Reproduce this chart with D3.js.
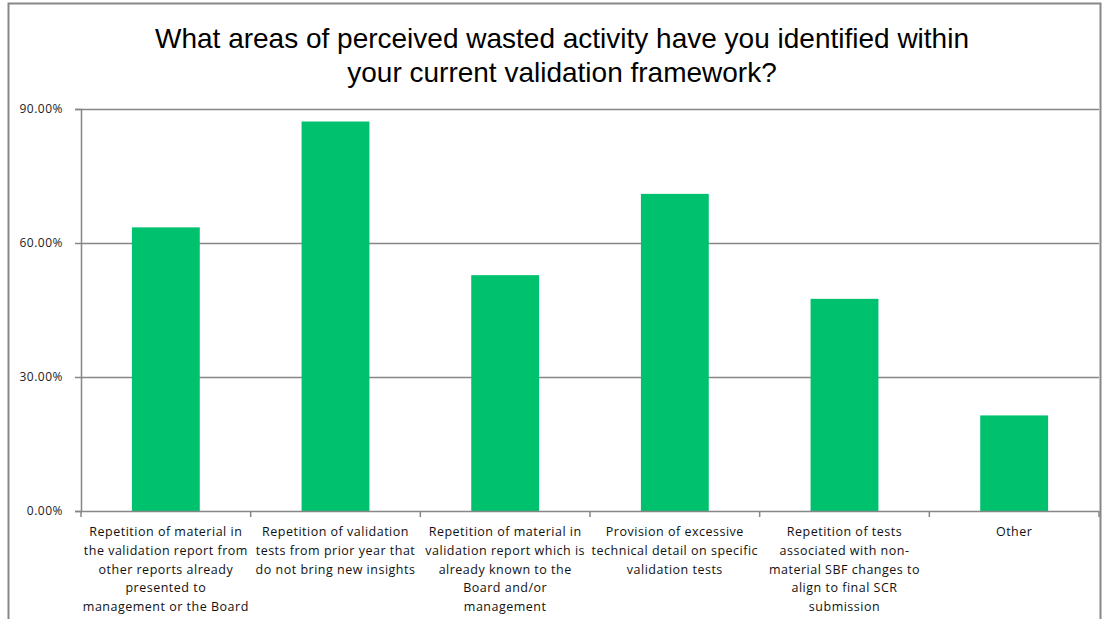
<!DOCTYPE html>
<html>
<head>
<meta charset="utf-8">
<script src="https://cdn.jsdelivr.net/npm/d3@7"></script>
<style>
  body { margin: 0; background: #fff; }
  svg { display: block; }
</style>
</head>
<body>
<div id="chart"></div>
<script>
const titleLines = [
  "What areas of perceived wasted activity have you identified within",
  "your current validation framework?"
];

const categories = [
  ["Repetition  of material in", "the validation report from", "other reports already", "presented to", "management or the Board"],
  ["Repetition  of validation", "tests from prior year that", "do not bring new insights"],
  ["Repetition  of material in", "validation report which is", "already known to the", "Board and/or", "management"],
  ["Provision  of excessive", "technical detail on specific", "validation tests"],
  ["Repetition  of tests", "associated with non-", "material SBF changes to", "align to final SCR", "submission"],
  ["Other"]
];

const values = [0.635, 0.872, 0.528, 0.71, 0.475, 0.214];
const yTicks = [0, 0.3, 0.6, 0.9];

const width = 1104, height = 619;
const margin = { top: 109, right: 5, bottom: 108, left: 81 };
const innerWidth = width - margin.left - margin.right;
const innerHeight = height - margin.top - margin.bottom;

const svg = d3.select("#chart").append("svg")
  .attr("width", width)
  .attr("height", height);

// outer chart border
svg.append("rect")
  .attr("x", 8.5).attr("y", 3.5)
  .attr("width", 1092).attr("height", 640)
  .attr("fill", "none")
  .attr("stroke", "#878787")
  .attr("stroke-width", 2);

svg.append("g")
  .selectAll("text")
  .data(titleLines)
  .enter()
  .append("text")
  .attr("x", 562)
  .attr("y", (d, i) => 48 + i * 34)
  .attr("text-anchor", "middle")
  .attr("font-family", "Liberation Sans, Arial, sans-serif")
  .attr("font-size", "28px")
  .attr("fill", "#000")
  .text((d) => d);

const chart = svg.append("g")
  .attr("transform", `translate(${margin.left},${margin.top})`);

const x = d3.scaleBand()
  .domain(d3.range(categories.length))
  .range([0, innerWidth])
  .paddingInner(0.6)
  .paddingOuter(0.3);

const band = innerWidth / categories.length;

const y = d3.scaleLinear()
  .domain([0, 0.9])
  .range([innerHeight, 0]);

// gridlines
chart.append("g")
  .selectAll("line")
  .data(yTicks.filter((d) => d > 0))
  .enter()
  .append("line")
  .attr("x1", 0).attr("x2", innerWidth)
  .attr("y1", (d) => Math.round(y(d)) + 0.5)
  .attr("y2", (d) => Math.round(y(d)) + 0.5)
  .attr("stroke", "#868686")
  .attr("stroke-width", 1.5);

chart.selectAll("rect.bar")
  .data(values)
  .enter()
  .append("rect")
  .attr("class", "bar")
  .attr("x", (d, i) => x(i))
  .attr("y", (d) => y(d))
  .attr("width", x.bandwidth())
  .attr("height", (d) => innerHeight - y(d))
  .attr("fill", "#00c16e");

const yAxis = d3.axisLeft(y)
  .tickValues(yTicks)
  .tickSize(6)
  .tickFormat((d) => (d * 100).toFixed(2) + "%");

const gy = chart.append("g").call(yAxis);
gy.select(".domain").attr("stroke", "#868686").attr("stroke-width", 1.5);
gy.selectAll(".tick line").attr("stroke", "#868686").attr("stroke-width", 1.5);
gy.selectAll(".tick text")
  .attr("x", -18)
  .attr("fill", "#222")
  .attr("font-family", "Open Sans, sans-serif")
  .attr("font-size", "12px")
  .attr("letter-spacing", "0.5px");

// x axis with ticks at band boundaries
const xEdge = d3.scaleLinear().domain([0, categories.length]).range([0, innerWidth]);
const gx = chart.append("g").attr("transform", `translate(0,${innerHeight})`);
gx.append("line")
  .attr("x1", 0).attr("x2", innerWidth)
  .attr("y1", 0.5).attr("y2", 0.5)
  .attr("stroke", "#868686").attr("stroke-width", 1.5);
gx.selectAll("line.tk")
  .data(d3.range(categories.length + 1))
  .enter()
  .append("line")
  .attr("class", "tk")
  .attr("x1", (d) => xEdge(d)).attr("x2", (d) => xEdge(d))
  .attr("y1", 0).attr("y2", 6)
  .attr("stroke", "#868686").attr("stroke-width", 1.5);

const labels = gx.selectAll("text.cat")
  .data(categories)
  .enter()
  .append("text")
  .attr("class", "cat")
  .attr("text-anchor", "middle")
  .attr("font-family", "Open Sans, sans-serif")
  .attr("font-size", "12.5px")
  .attr("letter-spacing", "0.5px")
  .attr("fill", "#111");

labels.selectAll("tspan")
  .data((d, i) => d.map((line) => ({ line, i })))
  .enter()
  .append("tspan")
  .attr("x", (d) => xEdge(d.i) + band / 2)
  .attr("y", (d, j) => 25 + j * 18.8)
  .text((d) => d.line);
</script>
</body>
</html>
